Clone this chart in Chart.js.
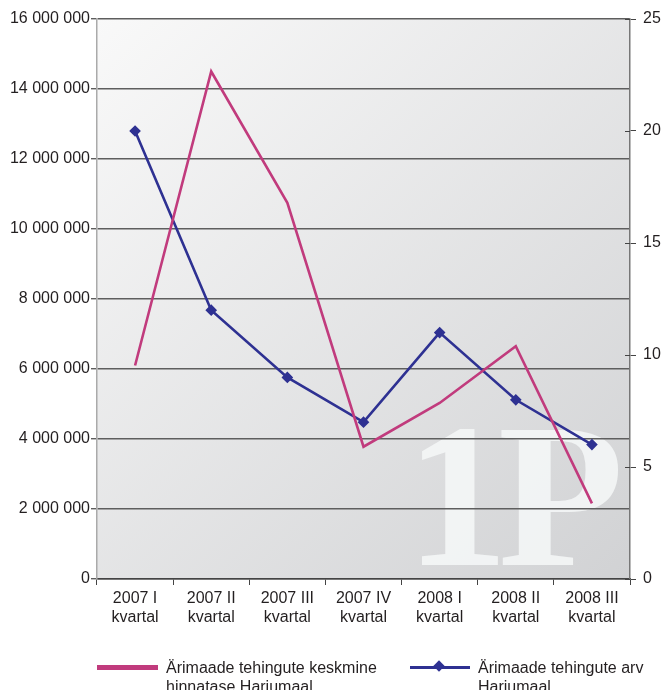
<!DOCTYPE html>
<html>
<head>
<meta charset="utf-8">
<script src="https://cdn.jsdelivr.net/npm/chart.js"></script>
<style>
    body { margin: 0; background: #fff; }
    #wrap { position: relative; width: 670px; height: 690px; }
    .leg { position: absolute; font-family: "Liberation Sans", Arial, sans-serif; font-size: 16px; color: #231f20; line-height: 19px; }
    .sw { position: absolute; }
</style>
</head>
<body>
<div id="wrap">
    <canvas id="chart" width="670" height="690"></canvas>
    <div class="sw" style="left:97px; top:665px; width:61px; height:5px; background:#c13b7d;"></div>
    <div class="leg" style="left:166px; top:658px;">Ärimaade tehingute keskmine<br>hinnatase Hariumaal</div>
    <div class="sw" style="left:410px; top:666px; width:60px; height:3px; background:#2e3192;"></div>
    <div class="sw" style="left:435px; top:662px; width:8px; height:8px; background:#2e3192; transform:rotate(45deg);"></div>
    <div class="leg" style="left:478px; top:658px;">Ärimaade tehingute arv<br>Hariumaal</div>
</div>

<script>
    // quarters
    var quarters = [
        ['2007 I', 'kvartal'], ['2007 II', 'kvartal'], ['2007 III', 'kvartal'], ['2007 IV', 'kvartal'],
        ['2008 I', 'kvartal'], ['2008 II', 'kvartal'], ['2008 III', 'kvartal']
    ]
    // average price level (left axis)
    var avgPrice = [6100000, 14500000, 10750000, 3780000, 5030000, 6650000, 2160000]
    // number of deals (right axis)
    var dealCount = [20, 12, 9, 7, 11, 8, 6]

    var leftMax = 16000000
    var leftStep = 2000000
    var rightMax = 25
    var rightStep = 5

    var fontFam = '"Liberation Sans", Arial, sans-serif'

    function spaced(v) {
        return v.toString().replace(/\B(?=(\d{3})+(?!\d))/g, ' ')
    }

    var bgPlugin = {
        id: 'bg',
        beforeDraw: function(chart) {
            var a = chart.chartArea
            var ctx = chart.ctx
            ctx.save()
            var g = ctx.createLinearGradient(a.left, a.top, a.right, a.bottom)
            g.addColorStop(0, '#f9f9f9')
            g.addColorStop(1, '#d1d2d4')
            ctx.fillStyle = g
            ctx.fillRect(a.left, a.top, a.right - a.left, a.bottom - a.top)

            // watermark
            ctx.fillStyle = 'rgba(246,248,248,0.85)'
            ctx.font = 'bold 206px "Liberation Serif", "Times New Roman", serif'
            ctx.textBaseline = 'alphabetic'
            ctx.textAlign = 'center'
            ctx.fillText('1', 457, 565)
            ctx.textAlign = 'left'
            ctx.fillText('P', 498, 565)
            ctx.restore()
        },
        afterDraw: function(chart) {
            // small inner ticks on right axis
            var s = chart.scales.y1
            var ctx = chart.ctx
            ctx.save()
            ctx.strokeStyle = '#444'
            ctx.lineWidth = 1
            s.ticks.forEach(function(t) {
                var y = Math.round(s.getPixelForValue(t.value)) + 0.5
                ctx.beginPath()
                ctx.moveTo(s.left - 5, y)
                ctx.lineTo(s.left, y)
                ctx.stroke()
            })
            ctx.restore()
        }
    }

    var ctx = document.getElementById('chart').getContext('2d')
    var myChart = new Chart(ctx, {
        type: 'line',
        data: {
            labels: quarters,
            datasets: [{
                label: 'Ärimaade tehingute keskmine hinnatase Hariumaal',
                data: avgPrice,
                yAxisID: 'y',
                borderColor: '#c13b7d',
                borderWidth: 2.6,
                pointRadius: 0,
                tension: 0
            }, {
                label: 'Ärimaade tehingute arv Hariumaal',
                data: dealCount,
                yAxisID: 'y1',
                borderColor: '#2e3192',
                backgroundColor: '#2e3192',
                borderWidth: 2.6,
                pointStyle: 'rectRot',
                pointRadius: 4,
                tension: 0
            }]
        },
        options: {
            responsive: false,
            animation: false,
            layout: { padding: { top: 19, left: 0, right: 0, bottom: 0 } },
            plugins: {
                legend: { display: false },
                tooltip: { enabled: false }
            },
            scales: {
                x: {
                    offset: true,
                    grid: { display: true, offset: true, drawOnChartArea: false, tickLength: 6, color: '#444', lineWidth: 1 },
                    border: { color: '#444', width: 1.5 },
                    ticks: { color: '#231f20', font: { family: fontFam, size: 16 }, padding: 4, maxRotation: 0, autoSkip: false },
                    afterFit: function(s) { s.height = 111 }
                },
                y: {
                    position: 'left',
                    min: 0,
                    max: leftMax,
                    grid: { color: '#5e5e5e', lineWidth: 1.4, tickLength: 6 },
                    border: { color: '#aaa', width: 1.5 },
                    ticks: {
                        stepSize: leftStep,
                        padding: 1,
                        color: '#231f20',
                        font: { family: fontFam, size: 16 },
                        callback: function(v) { return spaced(v) }
                    },
                    afterFit: function(s) { s.width = 97 }
                },
                y1: {
                    position: 'right',
                    min: 0,
                    max: rightMax,
                    grid: { drawOnChartArea: false, color: '#444', tickLength: 6 },
                    border: { color: '#777', width: 1.5 },
                    ticks: {
                        stepSize: rightStep,
                        padding: 7,
                        color: '#231f20',
                        font: { family: fontFam, size: 16 }
                    },
                    afterFit: function(s) { s.width = 40 }
                }
            }
        },
        plugins: [bgPlugin]
    })
</script>
</body>
</html>
